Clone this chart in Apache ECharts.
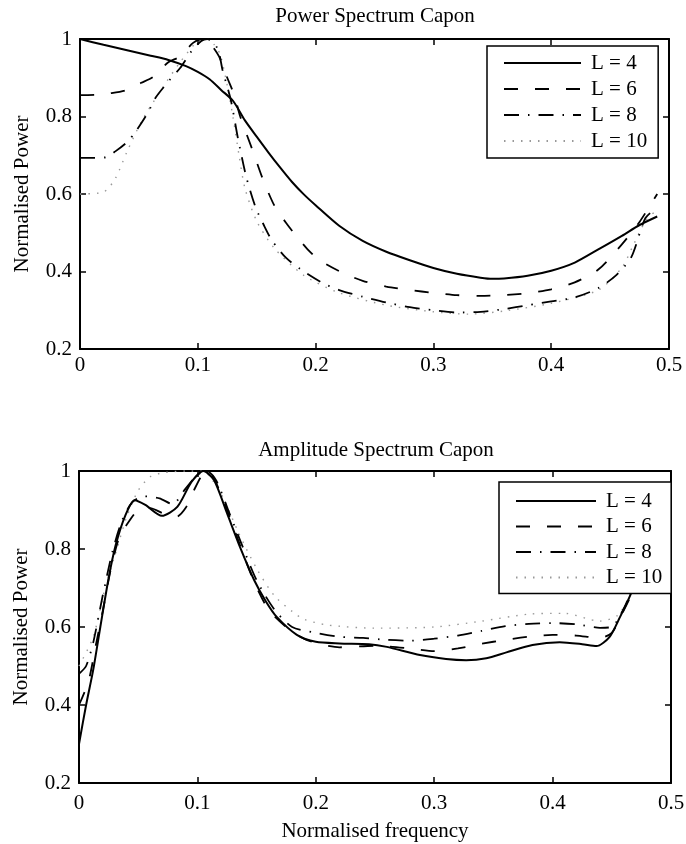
<!DOCTYPE html>
<html>
<head>
<meta charset="utf-8">
<script src="https://cdn.jsdelivr.net/npm/echarts@6/dist/echarts.min.js"></script>
<style>
  html, body { margin: 0; padding: 0; background: #fff; }
  #chart { width: 686px; height: 844px; }
</style>
</head>
<body>
<div id="chart"></div>
<script>
// Power spectrum (Capon), frequency and normalised power per filter length
const powerFreqL4 = [0, 0.02, 0.04, 0.06, 0.075, 0.09, 0.1, 0.11, 0.12, 0.13, 0.14, 0.15, 0.16, 0.17, 0.18, 0.19, 0.2, 0.22, 0.24, 0.26, 0.28, 0.3, 0.32, 0.34, 0.35, 0.36, 0.38, 0.4, 0.42, 0.44, 0.46, 0.475, 0.49];
const powerL4 = [1.0, 0.985, 0.971, 0.957, 0.946, 0.93, 0.915, 0.896, 0.868, 0.84, 0.79, 0.748, 0.707, 0.668, 0.631, 0.599, 0.571, 0.518, 0.479, 0.451, 0.429, 0.409, 0.394, 0.384, 0.381, 0.382, 0.389, 0.402, 0.423, 0.457, 0.492, 0.52, 0.542];

const powerFreqL6 = [0, 0.015, 0.026, 0.039, 0.052, 0.062, 0.075, 0.085, 0.096, 0.104, 0.11, 0.118, 0.125, 0.131, 0.136, 0.146, 0.155, 0.165, 0.175, 0.184, 0.193, 0.203, 0.222, 0.24, 0.26, 0.28, 0.3, 0.32, 0.34, 0.36, 0.38, 0.4, 0.42, 0.44, 0.46, 0.475, 0.49];
const powerL6 = [0.855, 0.856, 0.86, 0.868, 0.887, 0.902, 0.94, 0.955, 0.99, 1.0, 0.99, 0.955, 0.9, 0.855, 0.8, 0.717, 0.64, 0.57, 0.525, 0.49, 0.458, 0.43, 0.398, 0.376, 0.361, 0.352, 0.345, 0.339, 0.337, 0.339, 0.344, 0.354, 0.372, 0.405, 0.47, 0.528, 0.6];

const powerFreqL8 = [0, 0.01, 0.022, 0.03, 0.04, 0.047, 0.058, 0.064, 0.076, 0.085, 0.095, 0.103, 0.108, 0.114, 0.118, 0.121, 0.128, 0.134, 0.141, 0.149, 0.156, 0.163, 0.175, 0.19, 0.205, 0.22, 0.24, 0.26, 0.28, 0.3, 0.32, 0.34, 0.36, 0.38, 0.4, 0.42, 0.44, 0.455, 0.468, 0.48, 0.49];
const powerL8 = [0.693, 0.693, 0.695, 0.71, 0.734, 0.76, 0.812, 0.848, 0.894, 0.925, 0.97, 0.995, 1.0, 0.99, 0.964, 0.92, 0.843, 0.745, 0.646, 0.566, 0.52, 0.48, 0.435, 0.4, 0.372, 0.352, 0.335, 0.32, 0.308, 0.3, 0.294, 0.296, 0.303, 0.313, 0.323, 0.333, 0.357, 0.39, 0.437, 0.538, 0.565];

const powerFreqL10 = [0, 0.02, 0.03, 0.04, 0.052, 0.07, 0.085, 0.1, 0.108, 0.114, 0.119, 0.125, 0.13, 0.135, 0.14, 0.15, 0.165, 0.19, 0.22, 0.26, 0.3, 0.33, 0.36, 0.4, 0.44, 0.46, 0.47, 0.48, 0.49];
const powerL10 = [0.6, 0.605, 0.64, 0.71, 0.786, 0.874, 0.94, 0.995, 1.0, 0.985, 0.96, 0.88, 0.796, 0.7, 0.615, 0.53, 0.46, 0.39, 0.345, 0.313, 0.296, 0.29, 0.298, 0.318, 0.352, 0.41, 0.47, 0.53, 0.56];

// Amplitude spectrum (Capon)
const ampFreqL4 = [0, 0.006, 0.012, 0.018, 0.025, 0.031, 0.039, 0.047, 0.056, 0.07, 0.083, 0.095, 0.105, 0.114, 0.125, 0.136, 0.148, 0.158, 0.167, 0.184, 0.2, 0.22, 0.245, 0.26, 0.288, 0.31, 0.327, 0.344, 0.361, 0.383, 0.406, 0.425, 0.437, 0.448, 0.457, 0.465, 0.472, 0.48];
const ampL4 = [0.3, 0.4, 0.49, 0.6, 0.725, 0.81, 0.885, 0.925, 0.913, 0.885, 0.908, 0.972, 1.0, 0.977, 0.892, 0.805, 0.72, 0.665, 0.626, 0.58, 0.562, 0.558, 0.556, 0.549, 0.528, 0.518, 0.515, 0.52, 0.535, 0.554, 0.561, 0.556, 0.551, 0.574, 0.626, 0.677, 0.73, 0.8];

const ampFreqL6 = [0, 0.008, 0.014, 0.02, 0.027, 0.034, 0.042, 0.05, 0.06, 0.072, 0.082, 0.09, 0.097, 0.104, 0.109, 0.115, 0.125, 0.136, 0.148, 0.16, 0.175, 0.19, 0.205, 0.22, 0.25, 0.28, 0.3, 0.32, 0.34, 0.36, 0.38, 0.4, 0.42, 0.44, 0.45, 0.458, 0.466, 0.473, 0.48];
const ampL6 = [0.4, 0.46, 0.55, 0.64, 0.75, 0.83, 0.87, 0.9, 0.905, 0.89, 0.882, 0.905, 0.95, 0.99, 1.0, 0.975, 0.9, 0.81, 0.715, 0.645, 0.6, 0.57, 0.555, 0.548, 0.552, 0.545, 0.538, 0.545, 0.557, 0.567, 0.575, 0.58, 0.578, 0.572, 0.585, 0.63, 0.68, 0.74, 0.8];

const ampFreqL8 = [0, 0.006, 0.012, 0.02, 0.028, 0.036, 0.045, 0.055, 0.068, 0.079, 0.09, 0.1, 0.108, 0.116, 0.126, 0.137, 0.15, 0.165, 0.18, 0.2, 0.22, 0.24, 0.26, 0.28, 0.3, 0.32, 0.34, 0.36, 0.38, 0.4, 0.42, 0.44, 0.45, 0.458, 0.466, 0.473, 0.48];
const ampL8 = [0.48, 0.5, 0.56, 0.68, 0.79, 0.87, 0.92, 0.935, 0.93, 0.915, 0.955, 0.99, 1.0, 0.975, 0.9, 0.815, 0.72, 0.645, 0.6, 0.585, 0.575, 0.572, 0.567, 0.565, 0.57, 0.578, 0.59, 0.602, 0.608, 0.61, 0.607, 0.598, 0.6, 0.635, 0.685, 0.74, 0.8];

const ampFreqL10 = [0, 0.012, 0.022, 0.032, 0.04, 0.05, 0.06, 0.07, 0.09, 0.105, 0.112, 0.122, 0.135, 0.15, 0.165, 0.18, 0.19, 0.21, 0.25, 0.3, 0.34, 0.38, 0.41, 0.44, 0.455, 0.465, 0.473, 0.48];
const ampL10 = [0.5, 0.574, 0.7, 0.8, 0.88, 0.95, 0.985, 0.995, 1.0, 1.0, 0.98, 0.93, 0.84, 0.75, 0.68, 0.64, 0.62, 0.605, 0.597, 0.6, 0.615, 0.633, 0.635, 0.615, 0.63, 0.68, 0.74, 0.8];

const seriesNames = ['L = 4', 'L = 6', 'L = 8', 'L = 10'];
const xTickValues = [0, 0.1, 0.2, 0.3, 0.4, 0.5];
const yTickValues = [0.2, 0.4, 0.6, 0.8, 1];

const FONT = 'Liberation Serif';
const INK = '#000';

function pairs(xs, ys) {
  return xs.map((x, i) => [x, ys[i]]);
}

// line looks per filter length: solid, dashed, dash-dot, faint dotted
const looks = [
  { type: 'solid', width: 2, color: '#000' },
  { type: [14, 17], width: 1.8, color: '#000' },
  { type: [15, 9, 1.5, 9], width: 1.8, color: '#000' },
  { type: [1.5, 7], width: 1.4, color: '#999' }
];

function makeSeries(gridIdx, datasets) {
  return datasets.map((d, i) => ({
    name: seriesNames[i],
    type: 'line',
    xAxisIndex: gridIdx * 2,
    yAxisIndex: gridIdx * 2,
    data: pairs(d[0], d[1]),
    symbol: 'none',
    showSymbol: false,
    smooth: 0.25,
    z: 10 - i,
    lineStyle: { type: looks[i].type, width: looks[i].width, color: looks[i].color },
    itemStyle: { color: looks[i].color },
    emphasis: { disabled: true }
  }));
}

function xAxes(gridIdx, labelMargin, name) {
  const base = {
    type: 'value', gridIndex: gridIdx, min: 0, max: 0.5, interval: 0.1,
    splitLine: { show: false },
    axisLine: { show: true, onZero: false, lineStyle: { color: INK, width: 2 } },
    axisTick: { show: true, inside: true, length: 6, lineStyle: { color: INK, width: 1.5 } }
  };
  return [
    Object.assign({}, base, {
      position: 'bottom',
      axisLabel: {
        show: true, margin: labelMargin, fontFamily: FONT, fontSize: 21, color: INK,
        formatter: v => xTickValues.includes(+v.toFixed(2)) ? String(+v.toFixed(2)) : ''
      },
      name: name || '',
      nameLocation: 'middle',
      nameGap: 38,
      nameTextStyle: { fontFamily: FONT, fontSize: 21, color: INK }
    }),
    Object.assign({}, base, { position: 'top', axisLabel: { show: false } })
  ];
}

function yAxes(gridIdx) {
  const base = {
    type: 'value', gridIndex: gridIdx, min: 0.2, max: 1, interval: 0.2,
    splitLine: { show: false },
    axisLine: { show: true, onZero: false, lineStyle: { color: INK, width: 2 } },
    axisTick: { show: true, inside: true, length: 6, lineStyle: { color: INK, width: 1.5 } }
  };
  return [
    Object.assign({}, base, {
      position: 'left',
      axisLabel: {
        show: true, margin: 8, fontFamily: FONT, fontSize: 21, color: INK,
        formatter: v => yTickValues.includes(+v.toFixed(2)) ? String(+v.toFixed(2)) : ''
      },
      name: 'Normalised Power',
      nameLocation: 'middle',
      nameGap: 47,
      nameTextStyle: { fontFamily: FONT, fontSize: 21, color: INK }
    }),
    Object.assign({}, base, { position: 'right', axisLabel: { show: false } })
  ];
}

function legendBox(left, top, itemWidth, itemGap, padding) {
  return {
    data: seriesNames,
    orient: 'vertical',
    left: left,
    top: top,
    align: 'left',
    itemWidth: itemWidth,
    itemHeight: 14,
    itemGap: itemGap,
    padding: padding,
    backgroundColor: '#fff',
    borderColor: INK,
    borderWidth: 1.5,
    selectedMode: false,
    z: 20,
    // keys are drawn as bare line samples, no marker in the middle
    itemStyle: { opacity: 0 },
    textStyle: { fontFamily: FONT, fontSize: 21, color: INK, lineHeight: 22, padding: [0, 0, 0, 5] }
  };
}

const chart = echarts.init(document.getElementById('chart'), null, { renderer: 'canvas' });

chart.setOption({
  animation: false,
  backgroundColor: '#fff',
  title: [
    { text: 'Power Spectrum Capon', left: 375, top: 6, textAlign: 'center', padding: 0,
      textStyle: { fontFamily: FONT, fontSize: 21, fontWeight: 'normal', color: INK } },
    { text: 'Amplitude Spectrum Capon', left: 376, top: 440, textAlign: 'center', padding: 0,
      textStyle: { fontFamily: FONT, fontSize: 21, fontWeight: 'normal', color: INK } }
  ],
  legend: [
    legendBox(487, 46, 77, 4, [6, 11, 6, 16]),
    legendBox(499, 482, 80, 3.5, [8, 9, 5, 16])
  ],
  grid: [
    { left: 80, top: 39, width: 589, height: 310, outerBoundsMode: 'none', containLabel: false },
    { left: 79, top: 471, width: 592, height: 312, outerBoundsMode: 'none', containLabel: false }
  ],
  xAxis: [].concat(xAxes(0, 6), xAxes(1, 10, 'Normalised frequency')),
  yAxis: [].concat(yAxes(0), yAxes(1)),
  series: [].concat(
    makeSeries(0, [[powerFreqL4, powerL4], [powerFreqL6, powerL6], [powerFreqL8, powerL8], [powerFreqL10, powerL10]]),
    makeSeries(1, [[ampFreqL4, ampL4], [ampFreqL6, ampL6], [ampFreqL8, ampL8], [ampFreqL10, ampL10]])
  )
});
</script>
</body>
</html>
